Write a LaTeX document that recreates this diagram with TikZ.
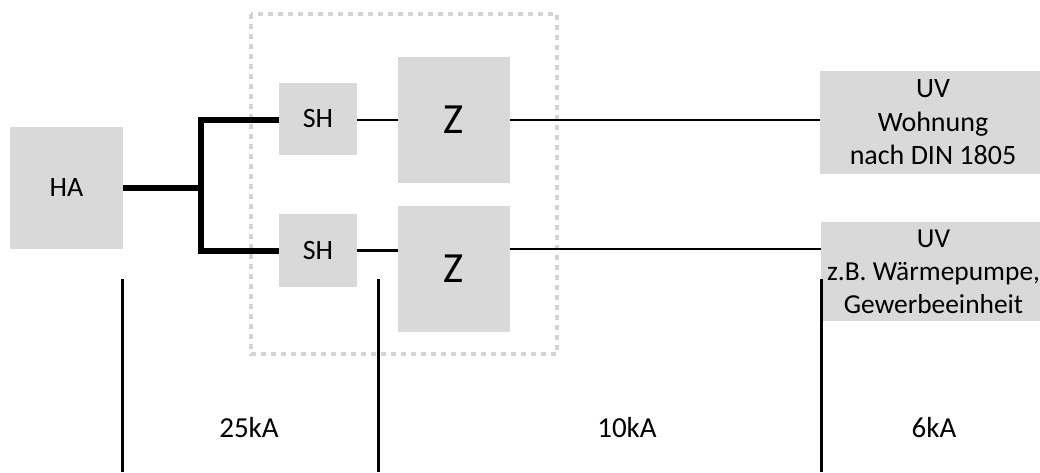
\documentclass[tikz,border=0pt]{standalone}
\usepackage{fontspec}
\setmainfont{Carlito}
\usepackage{xcolor}
\usepackage{tikz}
\usetikzlibrary{calc}
\definecolor{boxgray}{RGB}{217,217,217}
\definecolor{dotgray}{RGB}{212,212,212}

\begin{document}
\begin{tikzpicture}[x=1pt, y=-1pt,
    box/.style={fill=boxgray, inner sep=0pt, align=center, font=\fontsize{28}{33.5}\selectfont},
    bus/.style={line width=6pt, line join=miter},
    wire/.style={line width=2.7pt},
    mark line/.style={line width=3pt}]
    \useasboundingbox (0,0) rectangle (1040,472);
    % Zaehlerplatz
    \draw[dotgray, line width=4.5pt, dash pattern=on 5pt off 5pt] (251,14) rectangle (557,354);
    \node[box, minimum width=113pt, minimum height=122pt] (ha) at (66.5,188) {HA};
    \node[box, minimum width=78pt, minimum height=72pt] (shA) at (318,119) {SH};
    \node[box, minimum width=78pt, minimum height=73pt] (shB) at (318,250.5) {SH};
    \node[box, minimum width=112pt, minimum height=126pt, font=\fontsize{43}{50}\selectfont] (zA) at (454,120) {Z};
    \node[box, minimum width=112pt, minimum height=126pt, font=\fontsize{43}{50}\selectfont] (zB) at (454,269) {Z};
    \node[box, minimum width=226pt, minimum height=103pt] (uvA) at (933,122.5) {UV\\Wohnung\\nach DIN 1805};
    \node[box, minimum width=225pt, minimum height=99pt, font=\fontsize{27.4}{33}\selectfont] (uvB) at (933.5,271.5) {UV\\z.B. Wärmepumpe,\\Gewerbeeinheit};
    % Hauptleitung
    \coordinate (fork) at (201,188);
    \draw[bus] (ha.east) -- (fork);
    \draw[bus] (shA.west |- 0,120) -| (fork) |- (shB.west);
    \draw[wire] (shA.east |- 0,120) -- (zA.west |- 0,120);
    \draw[wire] (shB.east) -- (shB.east -| zB.west);
    \draw[wire] (zA.east) -- (zA.east -| uvA.west);
    \draw[wire] (zB.east |- 0,249) -- (uvB.west |- 0,249);
    % Kurzschlussstroeme
    \coordinate (topA) at (122,279);
    \coordinate (botA) at (122,472);
    \coordinate (topB) at (378,279);
    \coordinate (botB) at (378,472);
    \coordinate (topC) at (821,279);
    \coordinate (botC) at (821,472);
    \draw[mark line] (topA) -- (botA);
    \draw[mark line] (topB) -- (botB);
    \draw[mark line] (topC) -- (botC);
    \node[font=\fontsize{29}{34}\selectfont] (ikA) at (249,428) {25kA};
    \node[font=\fontsize{29}{34}\selectfont] (ikB) at (627,428) {10kA};
    \node[font=\fontsize{29}{34}\selectfont] (ikC) at (934,428) {6kA};
\end{tikzpicture}
\end{document}
